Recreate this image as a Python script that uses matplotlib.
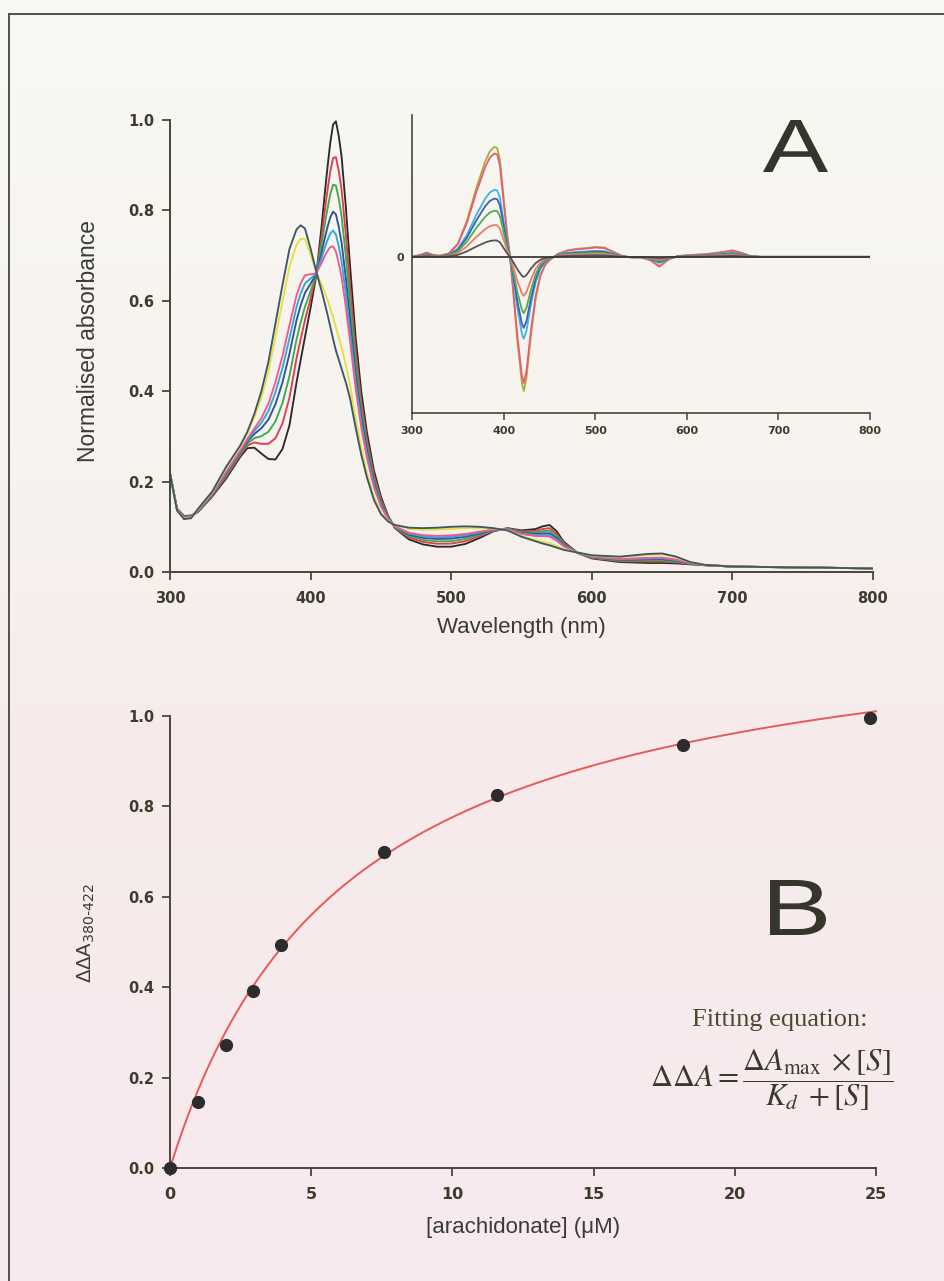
import numpy as np
import matplotlib
matplotlib.use("Agg")
import matplotlib.pyplot as plt
from matplotlib.lines import Line2D
from matplotlib.textpath import TextPath
from matplotlib.font_manager import FontProperties
from matplotlib.patches import PathPatch
from matplotlib.transforms import Affine2D

# ---------------- Panel A: normalised spectra ----------------
wavelength_nm = [300, 305, 310, 315, 320, 330, 340, 350, 355, 360, 365, 370, 375, 380,
                 385, 390, 393, 396, 400, 404, 408, 410, 412, 414, 416, 418, 420, 422,
                 425, 428, 432, 436, 440, 445, 450, 455, 460, 470, 480, 490, 500, 510,
                 520, 530, 540, 550, 560, 565, 570, 575, 580, 590, 600, 620, 640, 650,
                 660, 670, 680, 700, 750, 800]

# substrate-free (low-spin) spectrum, black trace
low_spin_abs = [0.218, 0.140, 0.124, 0.125, 0.133, 0.167, 0.207, 0.255, 0.274, 0.275,
                0.262, 0.250, 0.249, 0.272, 0.325, 0.420, 0.470, 0.520, 0.585, 0.655,
                0.770, 0.835, 0.895, 0.950, 0.990, 0.997, 0.965, 0.920, 0.810, 0.680,
                0.520, 0.400, 0.310, 0.225, 0.167, 0.125, 0.097, 0.072, 0.061, 0.056,
                0.056, 0.062, 0.075, 0.090, 0.097, 0.092, 0.095, 0.101, 0.104, 0.090,
                0.067, 0.042, 0.030, 0.022, 0.020, 0.020, 0.019, 0.017, 0.015, 0.012,
                0.010, 0.008]

# saturating arachidonate (high-spin) spectrum, dark slate trace
high_spin_abs = [0.218, 0.136, 0.117, 0.119, 0.140, 0.178, 0.233, 0.280, 0.310, 0.350,
                 0.400, 0.465, 0.550, 0.635, 0.715, 0.758, 0.767, 0.760, 0.715, 0.665,
                 0.620, 0.595, 0.570, 0.543, 0.515, 0.490, 0.470, 0.450, 0.420, 0.385,
                 0.320, 0.260, 0.210, 0.160, 0.128, 0.112, 0.104, 0.098, 0.097, 0.098,
                 0.100, 0.101, 0.100, 0.097, 0.092, 0.078, 0.068, 0.063, 0.059, 0.054,
                 0.049, 0.043, 0.037, 0.034, 0.040, 0.041, 0.034, 0.022, 0.016, 0.012,
                 0.010, 0.008]

# titration series: fraction of high-spin form read from the Soret peak heights
high_spin_fraction = [0.0, 0.156, 0.28, 0.406, 0.494, 0.568, 0.90, 1.0]
series_colors = ["#2b2b2b", "#e23c4e", "#3faa4a", "#33509c", "#2fa6dc",
                 "#ee5a8c", "#e6e03a", "#3e5766"]

# ---------------- Inset: difference spectra ----------------
inset_wavelength_nm = [300, 310, 316, 322, 330, 340, 350, 360, 370, 380, 385, 390, 393,
                       396, 400, 404, 407, 410, 415, 420, 422, 425, 430, 435, 440, 445,
                       450, 455, 460, 470, 480, 490, 500, 510, 520, 530, 540, 550, 560,
                       570, 580, 590, 600, 620, 640, 650, 660, 670, 680, 700, 800]
inset_diff_largest = [0.0, 0.02, 0.04, 0.02, 0.01, 0.03, 0.12, 0.33, 0.62, 0.87, 0.96,
                      1.0, 0.99, 0.88, 0.54, 0.20, 0.0, -0.27, -0.76, -1.15, -1.22,
                      -1.10, -0.70, -0.38, -0.18, -0.08, -0.03, 0.0, 0.03, 0.06, 0.073,
                      0.08, 0.09, 0.085, 0.045, 0.006, -0.006, -0.006, -0.03, -0.09,
                      -0.024, 0.006, 0.015, 0.024, 0.045, 0.06, 0.036, 0.006, 0.0, 0.0,
                      0.0]
inset_relative_size = [1.0, 0.94, 0.61, 0.53, 0.42, 0.29, 0.15]
inset_colors = ["#a9ad3c", "#e85c74", "#3cb4e6", "#3c62b0", "#4cae52", "#f07a68", "#555555"]

# ---------------- Panel B: binding curve ----------------
arachidonate_uM = [0.0, 1.0, 1.98, 2.95, 3.92, 7.58, 11.57, 18.17, 24.79]
delta_delta_A = [0.0, 0.147, 0.272, 0.392, 0.493, 0.700, 0.825, 0.936, 0.996]
fit_dA_max = 1.265
fit_Kd_uM = 6.3

# ======================================================
W, H = 945, 1281
fig = plt.figure(figsize=(W / 100, H / 100), dpi=100)
fig.patch.set_facecolor("#f7f3ee")

# scanned-paper background gradient
bg = fig.add_axes([0, 0, 1, 1], zorder=-10)
stops = np.array([0.0, 0.35, 0.55, 1.0])
cols = np.array([[249, 248, 243], [247, 243, 238], [246, 236, 234], [248, 233, 238]]) / 255.0
yy = np.linspace(0, 1, 300)
grad = np.stack([np.interp(yy, stops, cols[:, k]) for k in range(3)], axis=1)[:, None, :]
bg.imshow(grad, aspect="auto", extent=[0, 1, 0, 1], origin="upper")
bg.set_axis_off()

# frame lines of the scan
fig.add_artist(Line2D([9 / W, 1.0], [1 - 14 / H] * 2, transform=fig.transFigure,
                      color="#505050", lw=1.4))
fig.add_artist(Line2D([9 / W] * 2, [0.0, 1 - 14 / H], transform=fig.transFigure,
                      color="#505050", lw=1.4))

axis_col = "#46463a"
tick_col = "#3c3c2c"
label_font = ["Liberation Sans", "DejaVu Sans"]


def style_axes(ax, tick_size):
    for s in ["top", "right"]:
        ax.spines[s].set_visible(False)
    for s in ["left", "bottom"]:
        ax.spines[s].set_color(axis_col)
        ax.spines[s].set_linewidth(1.4)
    ax.tick_params(direction="out", length=6, width=1.3, color=axis_col,
                   labelcolor=tick_col, labelsize=tick_size)
    ax.tick_params(axis="x", pad=7.5)
    ax.tick_params(axis="y", pad=5.5)
    for lab in ax.get_xticklabels() + ax.get_yticklabels():
        lab.set_fontfamily("DejaVu Sans")
        lab.set_fontweight("bold")
    ax.patch.set_alpha(0)


def big_letter(ch, x0, y0, x1, y1, color="#35352b"):
    """Panel letter as a path stretched into the pixel box (x0,y0)-(x1,y1), top-left origin."""
    tp = TextPath((0, 0), ch, size=100, prop=FontProperties(family="Liberation Sans"))
    bb = tp.get_extents()
    tr = (Affine2D().translate(-bb.x0, -bb.y0)
          .scale((x1 - x0) / bb.width / W, (y1 - y0) / bb.height / H)
          .translate(x0 / W, 1 - y1 / H))
    fig.add_artist(PathPatch(tr.transform_path(tp), transform=fig.transFigure,
                             fc=color, ec="none"))


# ---------- Panel A ----------
axA = fig.add_axes([170 / W, 1 - 572 / H, 703 / W, 452 / H])
wl = np.array(wavelength_nm)
ls = np.array(low_spin_abs)
hs = np.array(high_spin_abs)
for f, c in zip(high_spin_fraction, series_colors):
    axA.plot(wl, (1 - f) * ls + f * hs, color=c, lw=1.35, solid_joinstyle="round")
axA.set_xlim(300, 800)
axA.set_ylim(0, 1.0)
axA.set_xticks([300, 400, 500, 600, 700, 800])
axA.set_yticks([0.0, 0.2, 0.4, 0.6, 0.8, 1.0])
axA.set_yticklabels(["0.0", "0.2", "0.4", "0.6", "0.8", "1.0"])
style_axes(axA, 10.5)
axA.set_xlabel("Wavelength (nm)", fontsize=16, family=label_font, color="#3a3a3a", labelpad=8)
axA.set_ylabel("Normalised absorbance", fontsize=16.5, family=label_font, color="#3a3a3a")
axA.yaxis.set_label_coords(-0.099, 0.51)

# ---------- Inset ----------
axI = fig.add_axes([412 / W, 1 - 413 / H, 458 / W, 298 / H])
iwl = np.array(inset_wavelength_nm)
ishape = np.array(inset_diff_largest)
for a, c in zip(inset_relative_size, inset_colors):
    axI.plot(iwl, a * ishape, color=c, lw=1.3)
axI.axhline(0, color="#3a3a3a", lw=1.3, zorder=5)
axI.set_xlim(300, 800)
axI.set_ylim(-1.42, 1.29)
axI.set_xticks([300, 400, 500, 600, 700, 800])
axI.set_yticks([0])
axI.set_yticklabels(["0"])
style_axes(axI, 8)
axI.tick_params(axis="x", length=5, width=1.1, pad=4)
axI.tick_params(axis="y", length=0, pad=6)
for s in ["left", "bottom"]:
    axI.spines[s].set_linewidth(1.2)

big_letter("A", 763, 120, 828, 172)

# ---------- Panel B ----------
axB = fig.add_axes([170 / W, 1 - 1168 / H, 706 / W, 452 / H])
s_fit = np.linspace(0, 25, 300)
axB.plot(s_fit, fit_dA_max * s_fit / (fit_Kd_uM + s_fit), color="#e65a5a", lw=1.4,
         zorder=2, clip_on=False)
axB.plot(arachidonate_uM, delta_delta_A, "o", ms=8.5, color="#2c2c2c", zorder=3,
         clip_on=False)
axB.set_xlim(0, 25)
axB.set_ylim(0, 1.0)
axB.set_xticks([0, 5, 10, 15, 20, 25])
axB.set_yticks([0.0, 0.2, 0.4, 0.6, 0.8, 1.0])
axB.set_yticklabels(["0.0", "0.2", "0.4", "0.6", "0.8", "1.0"])
style_axes(axB, 10.5)
for lab in axB.get_xticklabels():
    lab.set_fontsize(11.5)
axB.set_xlabel("[arachidonate] (\u03bcM)", fontsize=16, family=label_font, color="#3a3a3a",
               labelpad=11)
axB.set_ylabel("\u0394\u0394A$_{380\u2010422}$", fontsize=14.5, family=label_font,
               color="#3a3a3a")
axB.yaxis.set_label_coords(-0.104, 0.52)

big_letter("B", 770, 880, 826, 935)

fig.text(780 / W, 1 - 1020 / H, "Fitting equation:", fontsize=19,
         family="Liberation Serif", color="#4a4a32", ha="center", va="center")
fig.text(772 / W, 1 - 1080 / H,
         r"$\Delta\Delta A = \dfrac{\Delta A_{\rm max}\;\times[S]}{K_d\;+[S]}$",
         fontsize=22, math_fontfamily="stix", color="#3a3a2a", ha="center", va="center")

fig.savefig("out.png", dpi=100)
